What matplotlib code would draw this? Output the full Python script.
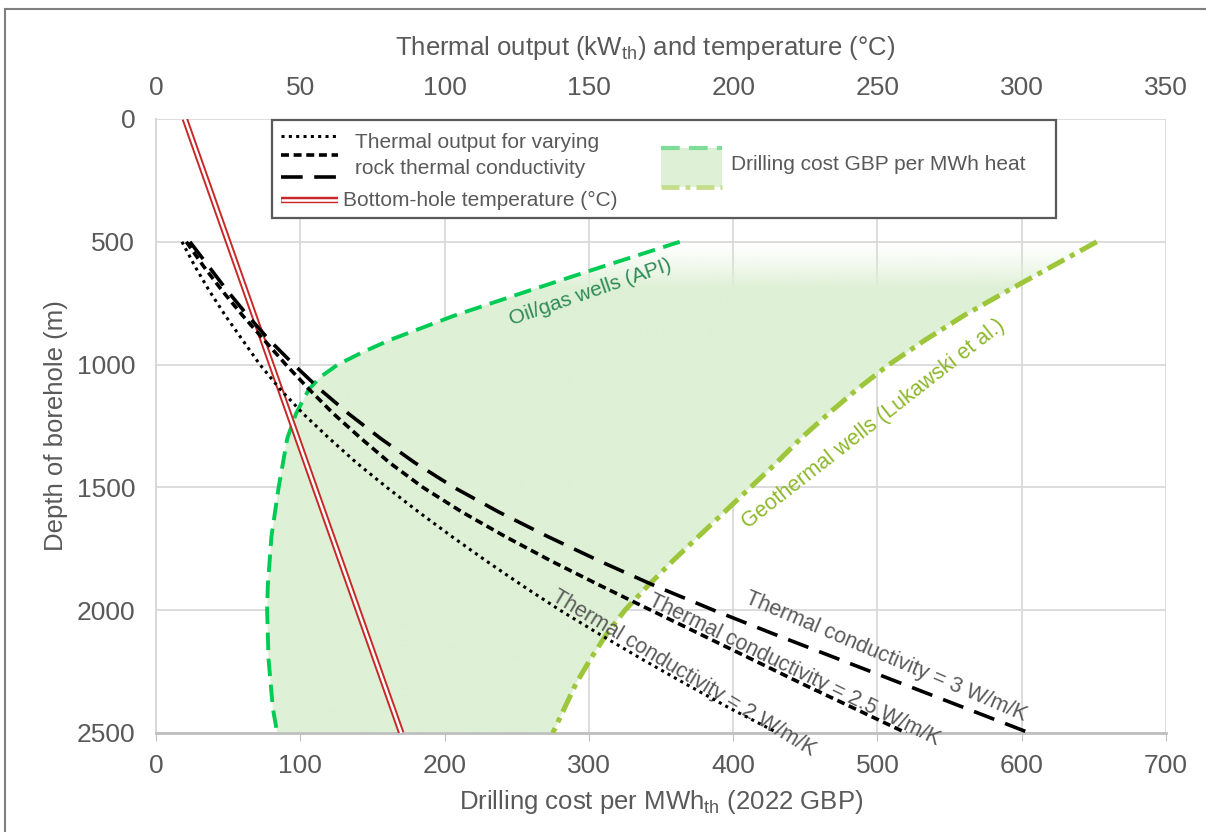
import matplotlib.pyplot as plt
import numpy as np
from matplotlib.patches import Polygon, Rectangle
from matplotlib.lines import Line2D

plt.rcParams['font.family'] = ['Liberation Sans', 'DejaVu Sans']

# thermal output (kW_th) vs depth for three rock conductivities
depth_th = [500, 600, 700, 800, 900, 1000, 1100, 1200, 1300, 1400, 1500,
            1600, 1700, 1800, 1900, 2000, 2100, 2200, 2300, 2400, 2500]
kw_k2 = [9, 13.5, 18.5, 24, 30, 36, 43, 51, 60, 69.5, 80,
         91, 102.5, 114.5, 127, 140, 154, 168.5, 183.5, 199, 215.5]
kw_k25 = [10.5, 16.5, 23, 30, 37.5, 45, 53, 61.5, 71, 81, 92.5,
          106, 121, 137, 154, 171.5, 189, 206.5, 224, 242, 260]
kw_k3 = [11.75, 18.25, 24.75, 31.75, 39.25, 47.75, 56.75, 66.75, 77.75, 89.75, 103.25,
         118.75, 135.75, 153.75, 172.75, 193.25, 214.75, 236.75, 258.75, 280.75, 302.75]

# bottom-hole temperature (deg C)
depth_temp = [0, 2500]
temp = [10, 85]

# drilling cost per MWh_th (2022 GBP)
depth_oil = [500, 600, 700, 800, 900, 950, 1000, 1050, 1100, 1200, 1300,
             1400, 1500, 1700, 1900, 2000, 2200, 2400, 2500]
cost_oil = [363, 310, 258, 207, 162, 143, 126, 114, 106, 97, 91,
            88, 85, 80, 77.5, 77, 78, 81, 84]
depth_geo = [500, 600, 700, 800, 900, 1000, 1100, 1200, 1300, 1400, 1500,
             1600, 1700, 1800, 1900, 2000, 2100, 2200, 2300, 2400, 2500]
cost_geo = [652, 621, 590, 560, 533, 508, 486, 466, 447, 430, 412,
            394, 376, 358, 341, 325, 312, 301, 291, 283, 275]

grey = '#595959'
fill_col = '#DEF0D5'
oil_col = '#00CC55'
geo_col = '#9DC63A'
red = '#C82828'

fig = plt.figure(figsize=(12.06, 8.32), dpi=100)
ax = fig.add_axes([156/1206, 99/832, 1010/1206, 614/832])

# shaded band between the two cost curves, fading out towards the top
verts = np.vstack([np.column_stack([cost_oil, depth_oil]),
                   np.column_stack([cost_geo, depth_geo])[::-1]])
band = Polygon(verts, closed=True, facecolor='none', edgecolor='none')
ax.add_patch(band)
dd = np.linspace(500, 2500, 400)
alpha = np.clip((dd - 500) / 190, 0, 1) ** 1.3
rgb = np.array([int(fill_col[i:i + 2], 16) / 255 for i in (1, 3, 5)])
img = np.zeros((len(dd), 2, 4))
img[:, :, :3] = rgb
img[:, :, 3] = alpha[:, None]
im = ax.imshow(img, extent=[0, 700, 2500, 500], aspect='auto', zorder=1,
               interpolation='bilinear')
im.set_clip_path(band)

ax.plot(cost_oil, depth_oil, color=oil_col, lw=2.8, ls=(0, (4.5, 2.2)), zorder=3)
ax.plot(cost_geo, depth_geo, color=geo_col, lw=3.6, ls=(0, (3.8, 1.3, 1, 1.3)), zorder=3)

ax.set_xlim(0, 700)
ax.set_ylim(2500, 0)
ax.set_xticks(np.arange(0, 701, 100))
ax.set_yticks(np.arange(0, 2501, 500))
ax.grid(color='#D9D9D9', lw=1.3, zorder=0)
ax.set_axisbelow(True)
for s in ['top', 'right']:
    ax.spines[s].set_visible(False)
ax.spines['bottom'].set_color('#BFBFBF')
ax.spines['bottom'].set_linewidth(2)
ax.spines['left'].set_color('#D9D9D9')
ax.spines['left'].set_linewidth(1.5)
ax.tick_params(axis='x', length=6, color='#BFBFBF', labelsize=19, labelcolor=grey, pad=9)
ax.tick_params(axis='y', length=0, labelsize=19, labelcolor=grey, pad=15)
ax.set_xlabel('Drilling cost per MWh$_{\\mathregular{th}}$ (2022 GBP)', fontsize=18.5, color=grey, labelpad=7)
ax.set_ylabel('Depth of borehole (m)', fontsize=18.5, color=grey, labelpad=6)

# top axis: thermal output and temperature
ax2 = ax.twiny()
ax2.set_xlim(0, 350)
ax2.set_xticks(np.arange(0, 351, 50))
for s in ax2.spines.values():
    s.set_visible(False)
ax2.tick_params(axis='x', length=0, labelsize=19, labelcolor=grey, pad=14)
ax2.set_xlabel('Thermal output (kW$_{\\mathregular{th}}$) and temperature (°C)',
               fontsize=18.5, color=grey)
ax2.xaxis.set_label_coords(0.484, 1.0 + 64 / 614)

ax2.plot(temp, depth_temp, color=red, lw=4.6, solid_capstyle='butt', zorder=4)
ax2.plot(temp, depth_temp, color='white', lw=1.8, solid_capstyle='butt', zorder=4)
ax2.plot(kw_k2, depth_th, color='black', lw=2.2, ls=(0, (1, 1.4)), zorder=5)
ax2.plot(kw_k25, depth_th, color='black', lw=2.6, ls=(0, (2.2, 1.3)), zorder=5)
ax2.plot(kw_k3, depth_th, color='black', lw=2.6, ls=(0, (6, 3.2)), zorder=5)

# curve labels
ax.text(301, 705, 'Oil/gas wells (API)', color='#2E8B57', fontsize=15,
        rotation=19, ha='center', va='center')
ax.text(497, 1240, 'Geothermal wells (Lukawski et al.)', color='#8DB82B', fontsize=15.5,
        rotation=38, ha='center', va='center')
ax.text(506, 2190, 'Thermal conductivity = 3 W/m/K', color=grey, fontsize=15.5,
        rotation=-23, ha='center', va='center')
ax.text(442, 2244, 'Thermal conductivity = 2.5 W/m/K', color=grey, fontsize=15.5,
        rotation=-26, ha='center', va='center')
ax.text(366, 2256, 'Thermal conductivity = 2 W/m/K', color=grey, fontsize=15.5,
        rotation=-31, ha='center', va='center')

# hand-built legend box (figure pixel coordinates)
def fx(px):
    return px / 1206

def fy(py):
    return 1 - py / 832

def fline(xs, ys, **kw):
    fig.add_artist(Line2D([fx(v) for v in xs], [fy(v) for v in ys],
                          transform=fig.transFigure, **kw))

fig.add_artist(Rectangle((fx(272), fy(218)), fx(1056) - fx(272), fy(120) - fy(218),
                         transform=fig.transFigure, facecolor='white',
                         edgecolor=grey, lw=1.6, zorder=10))
lx = [281, 338]
fline(lx, [136, 136], color='black', lw=2.2, ls=(0, (1, 1.4)), zorder=11)
fline(lx, [155, 155], color='black', lw=2.6, ls=(0, (2.2, 1.3)), zorder=11)
fline(lx, [177, 177], color='black', lw=2.6, ls=(0, (6, 3.2)), zorder=11)
fline(lx, [200, 200], color=red, lw=4.6, solid_capstyle='butt', zorder=11)
fline(lx, [200, 200], color='white', lw=1.8, solid_capstyle='butt', zorder=12)
fig.text(fx(355), fy(142), 'Thermal output for varying', fontsize=15, color=grey, va='center', zorder=12)
fig.text(fx(355), fy(168), 'rock thermal conductivity', fontsize=15, color=grey, va='center', zorder=12)
fig.text(fx(343), fy(200), 'Bottom-hole temperature (°C)', fontsize=15, color=grey, va='center', zorder=12)
fig.add_artist(Rectangle((fx(661), fy(187)), fx(722) - fx(661), fy(148) - fy(187),
                         transform=fig.transFigure, facecolor=fill_col,
                         edgecolor='none', zorder=11))
fline([661, 722], [148, 148], color='#7EDB98', lw=3, ls=(0, (4.5, 2.2)), zorder=12)
fline([661, 722], [187, 187], color='#C3DD8A', lw=3.4, ls=(0, (3.8, 1.3, 1, 1.3)), zorder=12)
fig.text(fx(731), fy(165), 'Drilling cost GBP per MWh heat', fontsize=15, color=grey,
         va='center', zorder=12)

# outer frame of the picture (top and left edges)
fline([5, 1206], [9, 9], color='#7F7F7F', lw=1.5)
fline([5, 5], [9, 832], color='#7F7F7F', lw=1.5)

fig.savefig('out.png', dpi=100)
